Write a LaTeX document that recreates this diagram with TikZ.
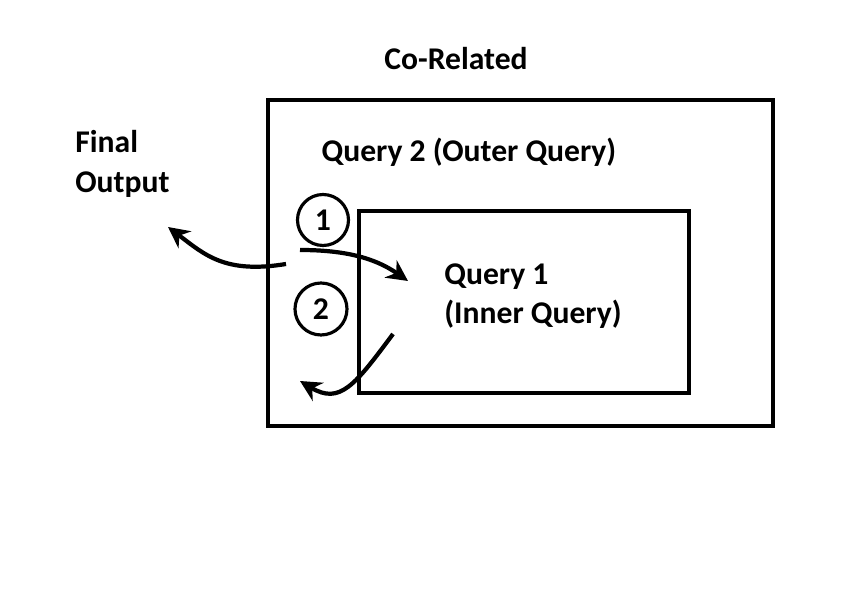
\documentclass[tikz,border=0pt]{standalone}
\usepackage{fontspec}
\setmainfont{Carlito}
\usetikzlibrary{arrows.meta}

\tikzset{
  lbl/.style={font=\fontsize{18}{22.5}\selectfont\bfseries, inner sep=0pt, align=left},
  num/.style={circle, draw, line width=1.8pt, minimum size=1.3cm, inner sep=0pt, font=\fontsize{18}{18}\selectfont\bfseries},
  flow/.style={line width=2.4pt, -{Stealth[length=12pt, width=12pt]}}
}

\begin{document}
\begin{tikzpicture}[x=0.02cm, y=-0.02cm]
\useasboundingbox (0, 0) rectangle (866, 590);
        \node[lbl] (cor) at (456, 59) {Co-Related};
        \draw[line width=2.8pt] (268, 100) rectangle (773, 426);
        \draw[line width=2.8pt] (359, 211) rectangle (689, 393);
        \node[lbl] (outer) at (469, 152) {Query 2 (Outer Query)};
        \node[lbl, anchor=west] (inner) at (444, 296) {Query 1\\(Inner Query)};
        \node[lbl, anchor=west] (fin) at (75, 164) {Final\\Output};
        \node[num, minimum width=1.02cm, minimum height=0.94cm] (one) at (323, 220) {1};
        \node[num, minimum width=0.94cm, minimum height=1.04cm] (two) at (321, 309) {2};
        \coordinate (a) at (286, 264);
        \coordinate (b) at (300, 250);
        \coordinate (c) at (393, 334);
        \coordinate (fo) at (168, 227);
        \coordinate (q1) at (408, 281);
        \coordinate (q2) at (300, 381);
        \draw[flow] (a) .. controls (225, 274) and (205, 255) .. (fo);
        \draw[flow] (b) .. controls (345, 250) and (375, 258) .. (q1);
        \draw[flow] (c) .. controls (355, 385) and (340, 405) .. (q2);
\end{tikzpicture}
\end{document}
